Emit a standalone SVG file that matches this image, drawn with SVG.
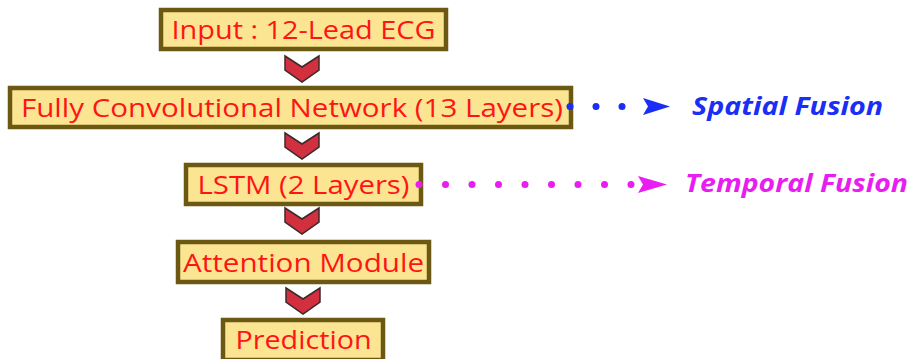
<svg xmlns="http://www.w3.org/2000/svg" width="911" height="359" viewBox="0 0 911 359">
  <style>
    .box { fill: #fce592; stroke: #6b5812; stroke-width: 4.5; }
    .label { font-family: "Open Sans", "Liberation Sans", sans-serif; font-size: 26px; fill: #ff1414; text-anchor: middle; }
    .chev { fill: #d22f3f; stroke: #3a2a2a; stroke-width: 1.5; stroke-linejoin: miter; }
    .tag { font-family: "Open Sans", "Liberation Sans", sans-serif; font-size: 25px; font-weight: bold; font-style: italic; }
  </style>
  <defs>
    <path id="chevron" class="chev" d="M-17,0 L0,11 L17,0 L17,14 L0,26 L-17,14 Z"/>
  </defs>
  <rect width="911" height="359" fill="#ffffff"/>

  <g id="node-input">
    <rect class="box" x="161" y="10" width="285" height="39"/>
    <text class="label" x="303.5" y="39" textLength="264" lengthAdjust="spacingAndGlyphs">Input : 12-Lead ECG</text>
  </g>
  <g id="node-fcn">
    <rect class="box" x="10" y="88" width="561" height="39"/>
    <text class="label" x="292" y="117" textLength="542" lengthAdjust="spacingAndGlyphs">Fully Convolutional Network (13 Layers)</text>
  </g>
  <g id="node-lstm">
    <rect class="box" x="186" y="165" width="235" height="39"/>
    <text class="label" x="303.5" y="193.5" textLength="212" lengthAdjust="spacingAndGlyphs">LSTM (2 Layers)</text>
  </g>
  <g id="node-attention">
    <rect class="box" x="178" y="242" width="251" height="40"/>
    <text class="label" x="303.5" y="271.5" textLength="241" lengthAdjust="spacingAndGlyphs">Attention Module</text>
  </g>
  <g id="node-prediction">
    <rect class="box" x="223" y="320" width="160" height="40"/>
    <text class="label" x="303.5" y="349" textLength="136" lengthAdjust="spacingAndGlyphs">Prediction</text>
  </g>

  <g id="connectors">
    <use href="#chevron" x="302" y="56"/>
    <use href="#chevron" x="302" y="133"/>
    <use href="#chevron" x="302" y="208"/>
    <use href="#chevron" x="303" y="288"/>

    <!-- spatial branch -->
    <g fill="#1a2ef5">
      <circle cx="570" cy="106.5" r="3.5"/>
      <circle cx="596" cy="106.5" r="3.5"/>
      <circle cx="622" cy="106.5" r="3.5"/>
      <path d="M643,98 L670,106.5 L643,115 L648,106.5 Z"/>
    </g>
    <!-- temporal branch -->
    <g fill="#e81ef0">
      <circle cx="419" cy="184.5" r="3.5"/>
      <circle cx="445.5" cy="184.5" r="3.5"/>
      <circle cx="472" cy="184.5" r="3.5"/>
      <circle cx="498.5" cy="184.5" r="3.5"/>
      <circle cx="525" cy="184.5" r="3.5"/>
      <circle cx="551.5" cy="184.5" r="3.5"/>
      <circle cx="578" cy="184.5" r="3.5"/>
      <circle cx="604.5" cy="184.5" r="3.5"/>
      <circle cx="631" cy="184.5" r="3.5"/>
      <path d="M638,176 L667,184.5 L638,193 L643,184.5 Z"/>
    </g>
  </g>

  <g id="tag-spatial">
    <text class="tag" x="692" y="115" fill="#1a2ef5" textLength="191" lengthAdjust="spacingAndGlyphs">Spatial Fusion</text>
  </g>
  <g id="tag-temporal">
    <text class="tag" x="685" y="192" fill="#e81ef0" textLength="223" lengthAdjust="spacingAndGlyphs">Temporal Fusion</text>
  </g>
</svg>
